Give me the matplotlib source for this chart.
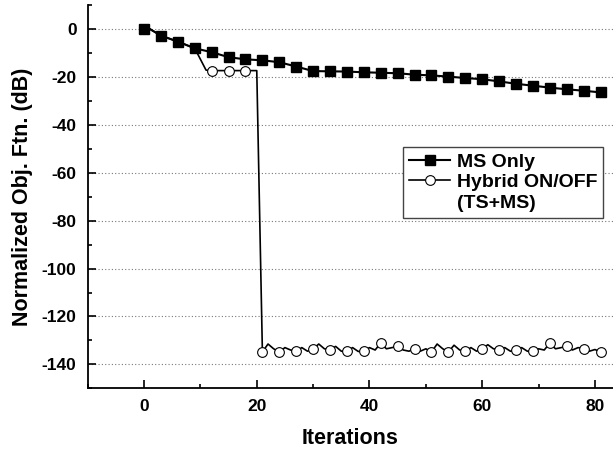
# MS only vs hybrid ON/OFF convergence

import matplotlib.pyplot as plt
from matplotlib.lines import Line2D
from matplotlib.ticker import MultipleLocator

plt.rcParams['font.family'] = ['Liberation Sans', 'DejaVu Sans']
plt.rcParams['font.weight'] = 'bold'
plt.rcParams['axes.unicode_minus'] = False

# data
ms_x = [0, 1, 3, 6, 9, 12, 15, 18, 21, 24, 27, 30, 33, 36, 39, 42, 45, 48,
        51, 54, 57, 60, 63, 66, 69, 72, 75, 78, 81]
ms_y = [0, 0, -2.8, -5.3, -8.1, -9.7, -11.8, -12.7, -13.1, -13.9, -15.7, -17.6,
        -17.7, -17.8, -18.1, -18.3, -18.5, -19.1, -19.4, -19.9, -20.5, -21.0,
        -21.9, -22.9, -23.7, -24.5, -25.2, -25.8, -26.5]

hyb_x = [0, 1, 3, 6, 9, 11, 12, 15, 18, 20] + list(range(21, 82))
hyb_y = [0, 0, -2.8, -5.3, -8.1, -17.2, -17.4, -17.4, -17.4, -17.4,
         -134.8, -131.5, -133.5, -134.8, -133.0, -134.0, -134.4, -133.0, -134.5,
         -133.6, -131.5, -133.5, -133.8, -132.5, -134.5, -134.4, -133.0, -134.6,
         -134.4, -133.0, -134.0, -131.1, -133.5, -133.0, -132.5, -134.0, -134.5,
         -133.4, -134.5, -133.5, -134.8, -131.5, -133.5, -134.8, -132.0, -134.0,
         -134.4, -133.0, -134.5, -133.4, -131.8, -133.5, -133.8, -133.0, -134.5,
         -134.1, -133.0, -134.5, -134.4, -133.5, -134.0, -131.1, -133.5, -133.0,
         -132.5, -134.0, -133.0, -133.4, -134.5, -133.8, -134.8]

ms_marks = [i for i, x in enumerate(ms_x) if x % 3 == 0]
hyb_marks = [i for i, x in enumerate(hyb_x) if x % 3 == 0]

fig = plt.figure(figsize=(6.13, 4.5), dpi=100)
ax = fig.add_axes([0.143, 0.137, 0.857, 0.852])

ax.plot(hyb_x, hyb_y, color='black', lw=1.2, marker='o', ms=7,
        mfc='white', mec='black', mew=0.8, markevery=hyb_marks, zorder=3)
ax.plot(ms_x, ms_y, color='black', lw=1.5, marker='s', ms=6.5,
        mfc='black', mec='black', markevery=ms_marks, zorder=4)

ax.set_xlim(-10, 83.2)
ax.set_ylim(-150, 10)
ax.xaxis.set_major_locator(MultipleLocator(20))
ax.xaxis.set_minor_locator(MultipleLocator(10))
ax.yaxis.set_major_locator(MultipleLocator(20))
ax.yaxis.set_minor_locator(MultipleLocator(10))
ax.tick_params(which='both', direction='in', top=False, right=False,
               labelsize=12.5, width=1.2)
ax.tick_params(which='major', length=6)
ax.tick_params(which='minor', length=3)
ax.tick_params(axis='x', pad=8)
ax.tick_params(axis='y', pad=8)
ax.grid(axis='y', which='major', linestyle=(0, (1, 2)), color='#777777', lw=0.8)

for s in ['top', 'right']:
    ax.spines[s].set_visible(False)
for s in ['left', 'bottom']:
    ax.spines[s].set_linewidth(1.3)

ax.set_xlabel('Iterations', fontsize=15.5, fontweight='bold', labelpad=10)
ax.set_ylabel('Normalized Obj. Ftn. (dB)', fontsize=15.5, fontweight='bold',
              labelpad=6)

handles = [
    Line2D([], [], color='black', lw=1.5, marker='s', ms=6.5),
    Line2D([], [], color='black', lw=1.2, marker='o', ms=7, mfc='white', mew=0.8),
    Line2D([], [], color='none'),
]
labels = ['MS Only', 'Hybrid ON/OFF', '(TS+MS)']
leg = ax.legend(handles, labels, loc='upper left', bbox_to_anchor=(0.601, 0.629),
                borderaxespad=0, fancybox=False, framealpha=1, edgecolor='#444444',
                prop={'size': 14, 'weight': 'bold'}, handlelength=2.1,
                handletextpad=0.35, labelspacing=0.15, borderpad=0.3)
leg.get_frame().set_linewidth(1.0)

plt.savefig('out.png', dpi=100)
